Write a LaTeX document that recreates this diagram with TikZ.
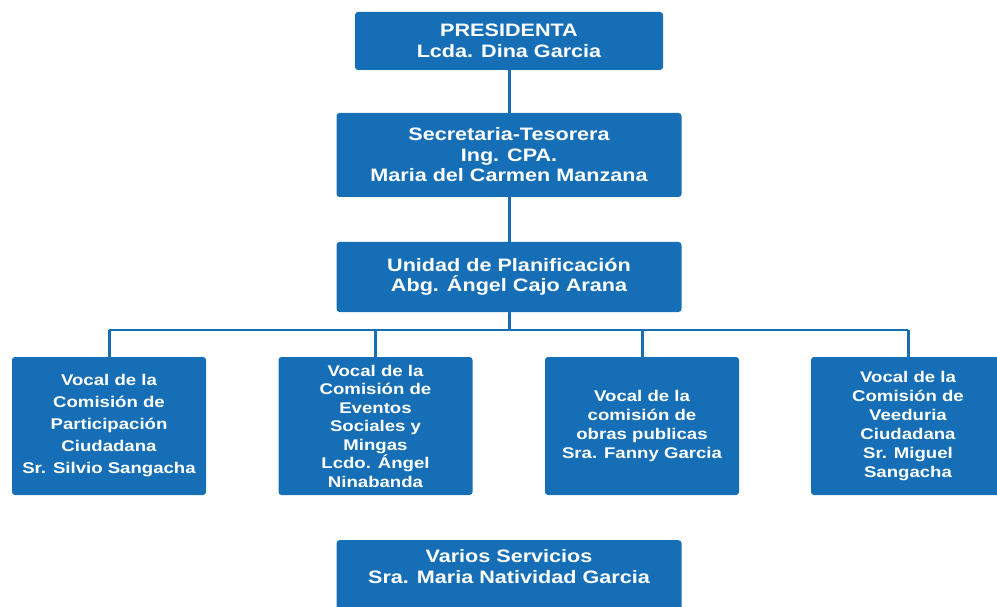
\documentclass[tikz,border=0pt]{standalone}
\usepackage{fontspec}
\setmainfont{Liberation Sans}[FakeStretch=1.2]
\definecolor{orgblue}{RGB}{22,111,182}

\begin{document}
\begin{tikzpicture}[x=1pt, y=-1pt,
  box/.style={fill=orgblue, text=white, rounded corners=3pt, inner sep=0pt,
    align=center, font=\bfseries\fontsize{18}{20.5}\selectfont},
  wide/.style={box, minimum width=345pt},
  vocalbox/.style={box, minimum width=194pt, minimum height=138pt,
    font=\bfseries\fontsize{15.5}{19}\selectfont},
  link/.style={orgblue, line width=3pt},
  bar/.style={orgblue, line width=2pt}]

\useasboundingbox (0,0) rectangle (997,607);
\clip (0,0) rectangle (997,607);

% Upper chain
\node[box, minimum width=308pt, minimum height=58pt] (pres) at (509,41) {PRESIDENTA\\Lcda. Dina Garcia};
\node[wide, minimum height=84pt] (secre) at (509,155) {Secretaria-Tesorera\\Ing. CPA.\\Maria del Carmen Manzana};
\node[wide, minimum height=70pt] (plan) at (509,277) {Unidad de Planificación\\Abg. Ángel Cajo Arana};

% Vocales
\node[vocalbox, font=\bfseries\fontsize{15.5}{22}\selectfont] (vocal1) at (109,426)
  {Vocal de la\\Comisión de\\Participación\\Ciudadana\\Sr. Silvio Sangacha};
\node[vocalbox, font=\bfseries\fontsize{15.5}{18.5}\selectfont] (vocal2) at (375.5,426)
  {Vocal de la\\Comisión de\\Eventos\\Sociales y\\Mingas\\Lcdo. Ángel\\Ninabanda};
\node[vocalbox] (vocal3) at (642,426)
  {Vocal de la\\comisión de\\obras publicas\\Sra. Fanny Garcia};
\node[vocalbox] (vocal4) at (908,426)
  {Vocal de la\\Comisión de\\Veeduria\\Ciudadana\\Sr. Miguel\\Sangacha};

% Bottom box, cut by the page edge
\node[wide, anchor=north, text height=43pt, text depth=40pt] (varios) at (509,540)
  {Varios Servicios\\Sra. Maria Natividad Garcia};

% Connectors
\draw[link] (pres) -- (secre);
\draw[link] (secre) -- (plan);
\coordinate (split) at (509,330);
\draw[link] (plan.south) -- (split);
\draw[bar] (vocal1.north |- split) -- (vocal4.north |- split);
\foreach \v in {1,...,4}
  \draw[link] (vocal\v.north |- split) -- (vocal\v);

\end{tikzpicture}
\end{document}
